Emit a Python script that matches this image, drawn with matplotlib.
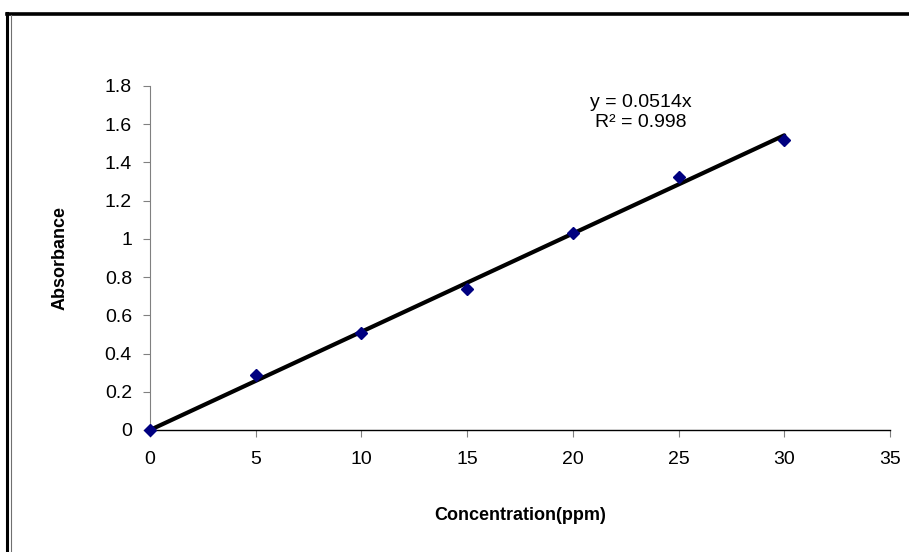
import matplotlib.pyplot as plt
from matplotlib.lines import Line2D

# Calibration standards: concentration (ppm) vs absorbance
conc = [0, 5, 10, 15, 20, 25, 30]
absorbance = [0.0, 0.29, 0.51, 0.74, 1.03, 1.325, 1.515]

slope = 0.0514
r_squared = 0.998
fit_x = [0, 30]
fit_y = [slope * x for x in fit_x]

x_ticks = [0, 5, 10, 15, 20, 25, 30, 35]
y_ticks = [0, 0.2, 0.4, 0.6, 0.8, 1.0, 1.2, 1.4, 1.6, 1.8]
y_tick_labels = ["0", "0.2", "0.4", "0.6", "0.8", "1", "1.2", "1.4", "1.6", "1.8"]

plt.rcParams["font.family"] = ["Liberation Sans", "DejaVu Sans"]

W, H = 909, 552
fig = plt.figure(figsize=(W / 100, H / 100), dpi=100)
ax = fig.add_axes([150 / W, 1 - 430 / H, 740 / W, 344 / H])

# trendline first, markers on top
ax.plot(fit_x, fit_y, color="black", linewidth=3, solid_capstyle="round", zorder=2)
ax.plot(conc, absorbance, linestyle="none", marker="D", markersize=6,
        color="#000080", zorder=3, clip_on=False)

ax.set_xlim(0, 35)
ax.set_ylim(0, 1.8)
ax.set_xticks(x_ticks)
ax.set_yticks(y_ticks)
ax.set_yticklabels(y_tick_labels)

for side in ("top", "right"):
    ax.spines[side].set_visible(False)
ax.spines["left"].set_color("#808080")
ax.spines["left"].set_linewidth(0.8)
ax.spines["bottom"].set_color("black")
ax.spines["bottom"].set_linewidth(1.0)

ax.tick_params(axis="x", direction="out", length=5, width=0.8, color="#808080",
               labelsize=14, pad=10)
ax.tick_params(axis="y", direction="out", length=5, width=0.8, color="#808080",
               labelsize=14, pad=8)

ax.set_xlabel("Concentration(ppm)", fontsize=13, fontweight="bold", labelpad=28)
ax.set_ylabel("Absorbance", fontsize=13, fontweight="bold", labelpad=26)

ax.text(23.2, 1.66, f"y = {slope}x\nR² = {r_squared}", ha="center", va="center",
        fontsize=14, linespacing=1.2)

# chart frame: heavy top and left edges with a thin inner line
fig.add_artist(Line2D([7.5 / W, 1], [1 - 13.5 / H, 1 - 13.5 / H],
                      color="black", linewidth=2.6, transform=fig.transFigure))
fig.add_artist(Line2D([7.5 / W, 7.5 / W], [0, 1 - 12.5 / H],
                      color="black", linewidth=2.2, transform=fig.transFigure))
fig.add_artist(Line2D([10.8 / W, 10.8 / W], [0, 1 - 15 / H],
                      color="#707070", linewidth=0.8, transform=fig.transFigure))

fig.savefig("out.png", dpi=100)
